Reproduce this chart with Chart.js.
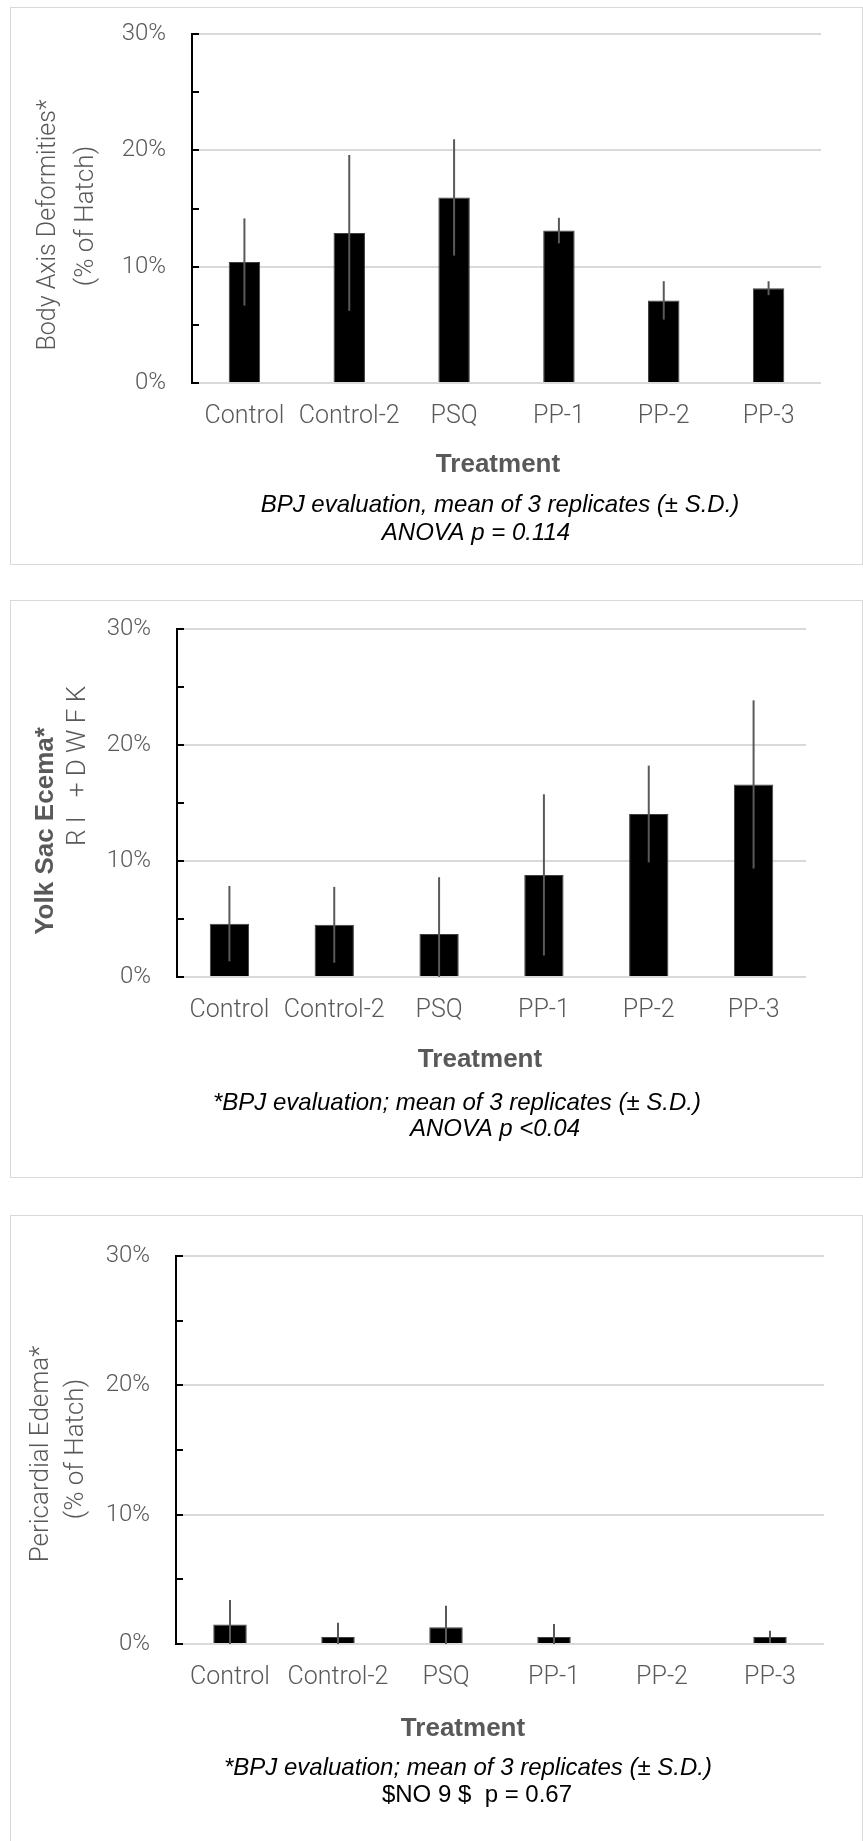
<!DOCTYPE html>
<html>
<head>
<meta charset="utf-8">
<title>Deformities by treatment</title>
<script src="https://cdn.jsdelivr.net/npm/chart.js@4.4.1/dist/chart.umd.min.js"></script>
<style>
  html, body { margin: 0; background: #fff; }
  #page { position: relative; width: 863px; height: 1841px; overflow: hidden; }
  .panel { position: absolute; left: 10px; width: 853px; border: 1px solid #d9d9d9; box-sizing: border-box; }
  canvas { position: absolute; left: 0; }
</style>
</head>
<body>
<div id="page">
  <div class="panel" style="top:7px;height:558px"></div>
  <div class="panel" style="top:600px;height:578px"></div>
  <div class="panel" style="top:1215px;height:700px"></div>
  <canvas id="bodyAxis" width="863" height="590" style="top:0"></canvas>
  <canvas id="yolkSac" width="863" height="610" style="top:590px"></canvas>
  <canvas id="pericardial" width="863" height="641" style="top:1200px"></canvas>
</div>
<script>
// values are % of hatch, mean of 3 replicates and its S.D.
const categories = ["Control", "Control-2", "PSQ", "PP-1", "PP-2", "PP-3"];
const yTicks = [0, 10, 20, 30];

const bodyAxisMean = [10.4, 12.9, 15.95, 13.1, 7.1, 8.15];
const bodyAxisSd = [3.75, 6.7, 5.0, 1.1, 1.65, 0.6];

const yolkSacMean = [4.6, 4.5, 3.7, 8.8, 14.05, 16.6];
const yolkSacSd = [3.25, 3.27, 4.9, 6.95, 4.17, 7.25];

const pericardialMean = [1.5, 0.55, 1.3, 0.55, 0, 0.55];
const pericardialSd = [1.9, 1.1, 1.65, 1.0, 0, 0.47];

const GRAY = "#595959";
const LIGHT = "Roboto, 'Open Sans', sans-serif";
const ARIAL = "'Liberation Sans', Arial, sans-serif";

/* ---------- plugins ---------- */

// vertical S.D. lines, no caps, clipped at 0
const errorBars = {
  id: "errorBars",
  afterDatasetsDraw(chart, args, opts) {
    const { ctx, scales: { y } } = chart;
    const values = chart.data.datasets[0].data;
    ctx.save();
    ctx.strokeStyle = GRAY;
    ctx.lineWidth = 2;
    chart.getDatasetMeta(0).data.forEach((bar, i) => {
      const sd = opts.sd[i];
      if (!sd) return;
      ctx.beginPath();
      ctx.moveTo(bar.x, y.getPixelForValue(values[i] + sd));
      ctx.lineTo(bar.x, y.getPixelForValue(Math.max(values[i] - sd, 0)));
      ctx.stroke();
    });
    ctx.restore();
  }
};

// small inward tick marks on the y axis, every 5%
const axisStubs = {
  id: "axisStubs",
  afterDraw(chart) {
    const { ctx, chartArea, scales: { y } } = chart;
    ctx.save();
    ctx.strokeStyle = "#000";
    ctx.lineWidth = 2;
    for (let v = y.min; v <= y.max; v += 5) {
      const py = Math.round(y.getPixelForValue(v));
      ctx.beginPath();
      ctx.moveTo(chartArea.left, py);
      ctx.lineTo(chartArea.left + 7, py);
      ctx.stroke();
    }
    ctx.restore();
  }
};

// free text: axis titles and the caption under each chart
const notes = {
  id: "notes",
  afterDraw(chart, args, opts) {
    const ctx = chart.ctx;
    opts.items.forEach((n) => {
      ctx.save();
      ctx.translate(n.x, n.y);
      if (n.rotate) ctx.rotate(-Math.PI / 2);
      ctx.font = n.font;
      ctx.fillStyle = n.color;
      ctx.textAlign = "center";
      ctx.textBaseline = n.rotate ? "alphabetic" : "middle";
      ctx.fillText(n.text, 0, 0);
      ctx.restore();
    });
  }
};

/* ---------- chart factory ---------- */

function makeChart(id, mean, sd, frame, items) {
  const canvas = document.getElementById(id);
  return new Chart(canvas, {
    type: "bar",
    data: {
      labels: categories,
      datasets: [{
        data: mean,
        backgroundColor: "#000",
        borderColor: "#404040",
        borderWidth: 1,
        barPercentage: frame.bar,
        categoryPercentage: 1
      }]
    },
    options: {
      responsive: false,
      animation: false,
      layout: {
        padding: {
          left: 0,
          top: frame.top,
          right: canvas.width - frame.right,
          bottom: canvas.height - frame.bottom - 60
        }
      },
      plugins: {
        legend: { display: false },
        tooltip: { enabled: false },
        errorBars: { sd },
        notes: { items }
      },
      scales: {
        x: {
          grid: { display: false, drawTicks: false },
          border: { display: false },
          ticks: {
            color: GRAY,
            font: { family: LIGHT, size: 25, weight: 300 },
            padding: 19,
            maxRotation: 0,
            minRotation: 0,
            autoSkip: false
          },
          afterFit(s) { s.height = 60; s.paddingLeft = 0; s.paddingRight = 0; }
        },
        y: {
          min: yTicks[0],
          max: yTicks[yTicks.length - 1],
          afterBuildTicks(s) { s.ticks = yTicks.map((v) => ({ value: v })); },
          ticks: {
            color: GRAY,
            font: { family: LIGHT, size: 24, weight: 300 },
            padding: 26,
            callback: (v) => v + "%"
          },
          grid: { color: "#d9d9d9", lineWidth: 2, drawTicks: false },
          border: { color: "#000", width: 2 },
          afterFit(s) { s.width = frame.left; s.paddingTop = 0; s.paddingBottom = 0; }
        }
      }
    },
    plugins: [errorBars, axisStubs, notes]
  });
}

const light = (size) => `300 ${size}px ${LIGHT}`;
const treatment = (x, y) => ({ text: "Treatment", x, y, font: `bold 26px ${ARIAL}`, color: GRAY });
const caption = (text, x, y) => ({ text, x, y, font: `italic 24px ${ARIAL}`, color: "#000" });

makeChart("bodyAxis", bodyAxisMean, bodyAxisSd,
  { top: 34, bottom: 383, left: 192, right: 821, bar: 0.30 },
  [
    { text: "Body Axis Deformities*", x: 55, y: 225, rotate: true, font: light(25), color: GRAY },
    { text: "(% of Hatch)", x: 93, y: 216, rotate: true, font: light(26), color: GRAY },
    treatment(498, 465),
    caption("BPJ evaluation, mean of 3 replicates (\u00B1 S.D.)", 500, 505),
    caption("ANOVA p = 0.114", 476, 533)
  ]);

makeChart("yolkSac", yolkSacMean, yolkSacSd,
  { top: 39, bottom: 387, left: 177, right: 806, bar: 0.375 },
  [
    { text: "Yolk Sac Ecema*", x: 53, y: 241, rotate: true, font: `bold 26px ${ARIAL}`, color: GRAY },
    { text: "R I   + D W F K", x: 85, y: 176, rotate: true, font: light(26), color: GRAY },
    treatment(480, 470),
    caption("*BPJ evaluation; mean of 3 replicates (\u00B1 S.D.)", 457, 513),
    caption("ANOVA p <0.04", 495, 539)
  ]);

makeChart("pericardial", pericardialMean, pericardialSd,
  { top: 56, bottom: 444, left: 176, right: 824, bar: 0.31 },
  [
    { text: "Pericardial Edema*", x: 48, y: 254, rotate: true, font: light(26), color: GRAY },
    { text: "(% of Hatch)", x: 83, y: 249, rotate: true, font: light(26), color: GRAY },
    treatment(463, 529),
    caption("*BPJ evaluation; mean of 3 replicates (\u00B1 S.D.)", 468, 568),
    { text: "$NO 9 $  p = 0.67", x: 477, y: 595, font: `24px ${ARIAL}`, color: "#000" }
  ]);
</script>
</body>
</html>
